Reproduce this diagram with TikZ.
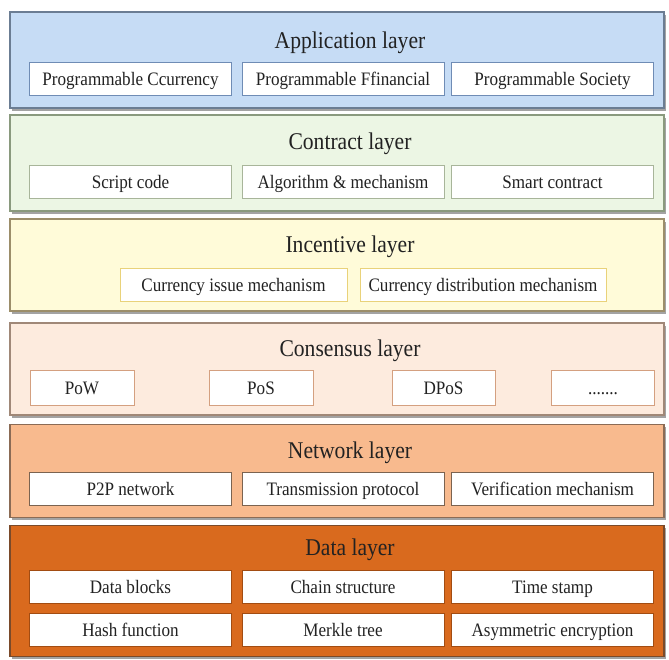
\documentclass[tikz,border=0pt]{standalone}
\usepackage{fontspec}
\setmainfont{Liberation Serif}[FakeStretch=0.9]
\usetikzlibrary{shadows}
\definecolor{appfill}{HTML}{C6DCF5}\definecolor{appdraw}{HTML}{6B7D93}\definecolor{appin}{HTML}{6F8CB5}
\definecolor{confill}{HTML}{ECF6E4}\definecolor{condraw}{HTML}{8A9A7E}\definecolor{conin}{HTML}{A8B59A}
\definecolor{incfill}{HTML}{FFFBD9}\definecolor{incdraw}{HTML}{9C8E6A}\definecolor{incin}{HTML}{E9D27A}
\definecolor{cnsfill}{HTML}{FDEBDE}\definecolor{cnsdraw}{HTML}{A08878}\definecolor{cnsin}{HTML}{D4A080}
\definecolor{netfill}{HTML}{F8BA8E}\definecolor{netdraw}{HTML}{8B6B55}\definecolor{netin}{HTML}{7B6350}
\definecolor{datfill}{HTML}{D96A1E}\definecolor{datdraw}{HTML}{7A4A2A}\definecolor{datin}{HTML}{A24C12}
\definecolor{txt}{HTML}{222222}
\tikzset{
  layer/.style={draw, line width=1.6pt, inner sep=0pt, minimum width=654pt,
    drop shadow={shadow xshift=1.5pt, shadow yshift=-2.5pt, fill=black!45, opacity=0.8}},
  ltitle/.style={text=txt, font=\fontsize{24}{24}\selectfont, inner sep=0pt,
    text height=16pt, text depth=5pt},
  item/.style={draw, fill=white, line width=0.9pt, inner sep=0pt, text=txt,
    font=\fontsize{19}{19}\selectfont, minimum height=33pt,
    text height=15pt, text depth=2pt},
  wide/.style={item, minimum width=202pt},
}
\begin{document}
\begin{tikzpicture}[x=1pt,y=-1pt]
\useasboundingbox (0,0) rectangle (669,659);
% layers
\node[layer, fill=appfill, draw=appdraw, minimum height=96pt] (app) at (337,60) {};
\node[layer, fill=confill, draw=condraw, minimum height=96pt] (con) at (337,163) {};
\node[layer, fill=incfill, draw=incdraw, minimum height=92pt] (inc) at (337,265) {};
\node[layer, fill=cnsfill, draw=cnsdraw, minimum height=92pt] (cns) at (337,369) {};
\node[layer, fill=netfill, draw=netdraw, minimum height=93pt] (net) at (337,471) {};
\node[layer, fill=datfill, draw=datdraw, minimum height=131pt] (dat) at (337,591) {};
% titles
\node[ltitle] (appT) at (350,43) {Application layer};
\node[ltitle] (conT) at (350,144) {Contract layer};
\node[ltitle] (incT) at (350,247) {Incentive layer};
\node[ltitle] (cnsT) at (350,351) {Consensus layer};
\node[ltitle] (netT) at (350,453) {Network layer};
\node[ltitle] (datT) at (350,550) {Data layer};
% application
\node[wide, draw=appin] (a1) at (130.5,78.5) {Programmable Ccurrency};
\node[wide, draw=appin] (a2) at (343,78.5) {Programmable Ffinancial};
\node[wide, draw=appin] (a3) at (552.5,78.5) {Programmable Society};
% contract
\node[wide, draw=conin] (c1) at (130.5,181.5) {Script code};
\node[wide, draw=conin] (c2) at (343,181.5) {Algorithm \& mechanism};
\node[wide, draw=conin] (c3) at (552.5,181.5) {Smart contract};
% incentive
\node[item, draw=incin, minimum width=227pt] (i1) at (233.5,285) {Currency issue mechanism};
\node[item, draw=incin, minimum width=246pt] (i2) at (483,285) {Currency distribution mechanism};
% consensus
\node[item, draw=cnsin, minimum width=104pt, minimum height=35pt] (s1) at (82,387.5) {PoW};
\node[item, draw=cnsin, minimum width=104pt, minimum height=35pt] (s2) at (261,387.5) {PoS};
\node[item, draw=cnsin, minimum width=103pt, minimum height=35pt] (s3) at (443.5,387.5) {DPoS};
\node[item, draw=cnsin, minimum width=103pt, minimum height=35pt] (s4) at (603,387.5) {.......};
% network
\node[wide, draw=netin] (n1) at (130.5,488.5) {P2P network};
\node[wide, draw=netin] (n2) at (343,488.5) {Transmission protocol};
\node[wide, draw=netin] (n3) at (552.5,488.5) {Verification mechanism};
% data
\node[wide, draw=datin] (d1) at (130.5,586.5) {Data blocks};
\node[wide, draw=datin] (d2) at (343,586.5) {Chain structure};
\node[wide, draw=datin] (d3) at (552.5,586.5) {Time stamp};
\node[wide, draw=datin] (d4) at (130.5,629.5) {Hash function};
\node[wide, draw=datin] (d5) at (343,629.5) {Merkle tree};
\node[wide, draw=datin] (d6) at (552.5,629.5) {Asymmetric encryption};
\end{tikzpicture}
\end{document}
